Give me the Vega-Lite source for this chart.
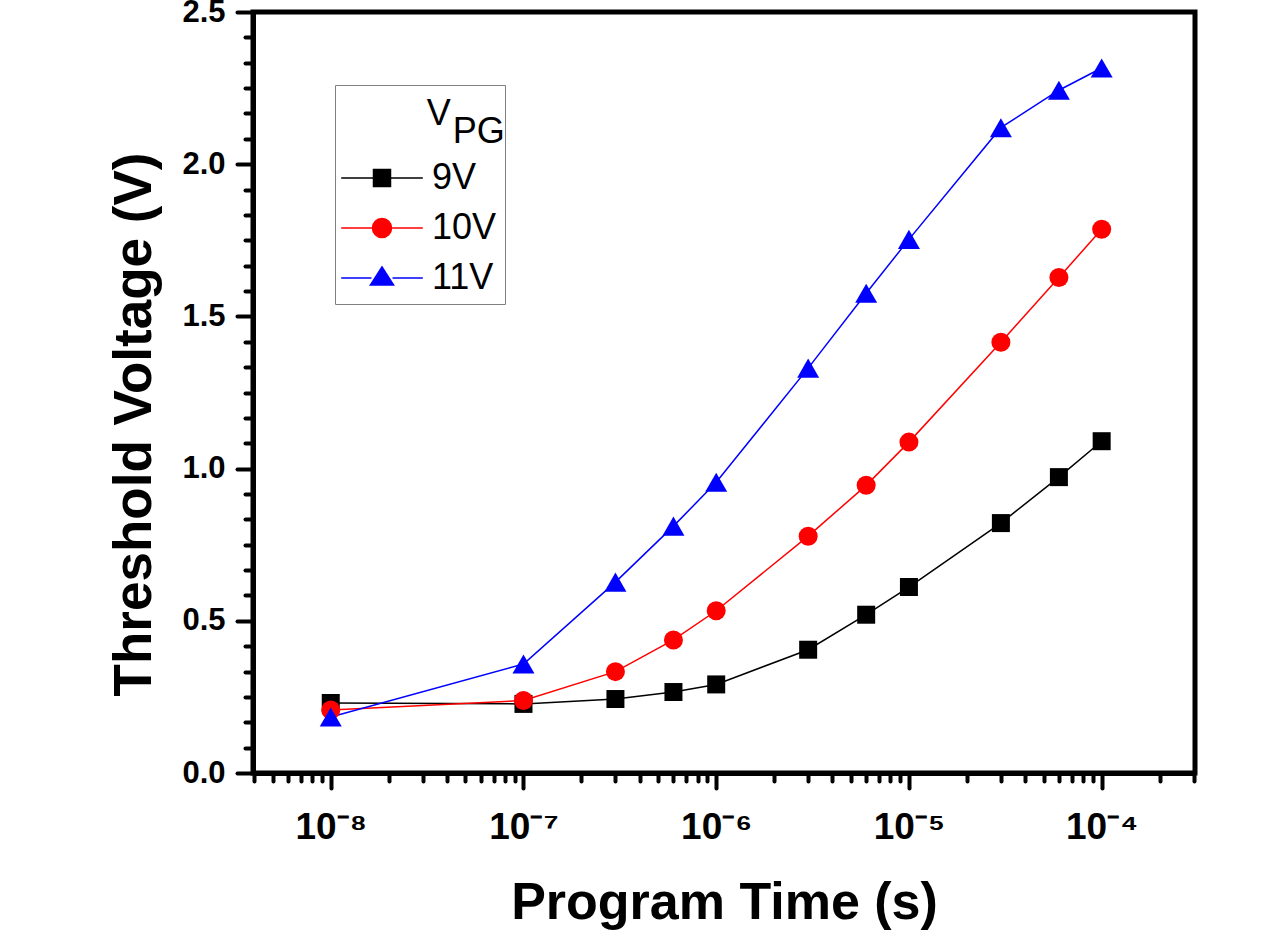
{
  "$schema": "https://vega.github.io/schema/vega-lite/v6.json",
  "width": 942,
  "height": 761,
  "autosize": "none",
  "padding": {"left": 253, "top": 12, "right": 71, "bottom": 164},
  "background": "white",
  "config": {"view": {"stroke": "black", "strokeWidth": 5}, "font": "Liberation Sans"},
  "resolve": {"axis": {"x": "independent", "y": "independent"}},
  "data": {"values": [
    {"t": 1e-8, "vth": 0.23, "series": "9V"},
    {"t": 1e-7, "vth": 0.227, "series": "9V"},
    {"t": 3e-7, "vth": 0.243, "series": "9V"},
    {"t": 6e-7, "vth": 0.266, "series": "9V"},
    {"t": 1e-6, "vth": 0.291, "series": "9V"},
    {"t": 3e-6, "vth": 0.405, "series": "9V"},
    {"t": 6e-6, "vth": 0.52, "series": "9V"},
    {"t": 1e-5, "vth": 0.611, "series": "9V"},
    {"t": 3e-5, "vth": 0.821, "series": "9V"},
    {"t": 6e-5, "vth": 0.972, "series": "9V"},
    {"t": 1e-4, "vth": 1.09, "series": "9V"},
    {"t": 1e-8, "vth": 0.207, "series": "10V"},
    {"t": 1e-7, "vth": 0.238, "series": "10V"},
    {"t": 3e-7, "vth": 0.333, "series": "10V"},
    {"t": 6e-7, "vth": 0.437, "series": "10V"},
    {"t": 1e-6, "vth": 0.533, "series": "10V"},
    {"t": 3e-6, "vth": 0.778, "series": "10V"},
    {"t": 6e-6, "vth": 0.945, "series": "10V"},
    {"t": 1e-5, "vth": 1.087, "series": "10V"},
    {"t": 3e-5, "vth": 1.415, "series": "10V"},
    {"t": 6e-5, "vth": 1.628, "series": "10V"},
    {"t": 1e-4, "vth": 1.786, "series": "10V"},
    {"t": 1e-8, "vth": 0.184, "series": "11V"},
    {"t": 1e-7, "vth": 0.358, "series": "11V"},
    {"t": 3e-7, "vth": 0.627, "series": "11V"},
    {"t": 6e-7, "vth": 0.811, "series": "11V"},
    {"t": 1e-6, "vth": 0.955, "series": "11V"},
    {"t": 3e-6, "vth": 1.33, "series": "11V"},
    {"t": 6e-6, "vth": 1.576, "series": "11V"},
    {"t": 1e-5, "vth": 1.753, "series": "11V"},
    {"t": 3e-5, "vth": 2.12, "series": "11V"},
    {"t": 6e-5, "vth": 2.243, "series": "11V"},
    {"t": 1e-4, "vth": 2.316, "series": "11V"}
  ]},
  "layer": [
    {
      "mark": {"type": "line", "strokeWidth": 1.5},
      "encoding": {
        "x": {
          "field": "t", "type": "quantitative",
          "scale": {"type": "log", "domain": [3.95e-9, 3.05e-4], "nice": false},
          "title": null,
          "axis": {
            "orient": "bottom",
            "values": [4e-9, 5e-9, 6e-9, 7e-9, 8e-9, 9e-9,
              2e-8, 3e-8, 4e-8, 5e-8, 6e-8, 7e-8, 8e-8, 9e-8,
              2e-7, 3e-7, 4e-7, 5e-7, 6e-7, 7e-7, 8e-7, 9e-7,
              2e-6, 3e-6, 4e-6, 5e-6, 6e-6, 7e-6, 8e-6, 9e-6,
              2e-5, 3e-5, 4e-5, 5e-5, 6e-5, 7e-5, 8e-5, 9e-5,
              2e-4, 3e-4],
            "labels": false, "grid": false,
            "tickSize": 8, "tickWidth": 4, "tickColor": "black", "tickCap": "round",
            "domainWidth": 5, "domainColor": "black"
          }
        },
        "y": {
          "field": "vth", "type": "quantitative",
          "scale": {"domain": [0, 2.5], "nice": false},
          "title": null,
          "axis": {
            "orient": "left",
            "values": [0.0833, 0.1667, 0.25, 0.3333, 0.4167, 0.5833, 0.6667, 0.75, 0.8333, 0.9167, 1.0833, 1.1667, 1.25, 1.3333, 1.4167, 1.5833, 1.6667, 1.75, 1.8333, 1.9167, 2.0833, 2.1667, 2.25, 2.3333, 2.4167],
            "labels": false, "grid": false,
            "tickSize": 8, "tickWidth": 4, "tickColor": "black", "tickCap": "round",
            "domainWidth": 5, "domainColor": "black"
          }
        },
        "color": {"field": "series", "type": "nominal", "scale": {"domain": ["9V", "10V", "11V"], "range": ["#000000", "#ff0000", "#0000ff"]}}
      }
    },
    {
      "transform": [{"filter": "datum.series === '9V'"}],
      "mark": {"type": "point", "filled": true, "opacity": 1, "shape": "square", "size": 324},
      "encoding": {
        "x": {
          "field": "t", "type": "quantitative",
          "scale": {"type": "log", "domain": [3.95e-9, 3.05e-4], "nice": false},
          "title": "Program Time (s)",
          "axis": {
            "orient": "bottom",
            "values": [1e-8, 1e-7, 1e-6, 1e-5, 1e-4],
            "labelExpr": "'10' + ['⁻⁸','⁻⁷','⁻⁶','⁻⁵','⁻⁴'][round(log(datum.value)/LN10) + 8]",
            "labelFont": "Liberation Sans", "labelFontSize": 37, "labelFontWeight": "bold", "labelColor": "black",
            "labelPadding": 21, "labelOverlap": false, "labelFlush": false,
            "tickSize": 15, "tickWidth": 4, "tickColor": "black", "tickCap": "round",
            "domainWidth": 5, "domainColor": "black", "grid": false,
            "titleFont": "Liberation Sans", "titleFontSize": 52, "titleFontWeight": "bold", "titleColor": "black", "titlePadding": 32
          }
        },
        "y": {
          "field": "vth", "type": "quantitative",
          "scale": {"domain": [0, 2.5], "nice": false},
          "title": "Threshold Voltage (V)",
          "axis": {
            "orient": "left",
            "values": [0, 0.5, 1, 1.5, 2, 2.5],
            "format": ".1f",
            "labelFont": "Liberation Sans", "labelFontSize": 31, "labelFontWeight": "bold", "labelColor": "black",
            "labelPadding": 12, "labelOverlap": false, "labelFlush": false,
            "tickSize": 16, "tickWidth": 4, "tickColor": "black", "tickCap": "round",
            "domainWidth": 5, "domainColor": "black", "grid": false,
            "titleFont": "Liberation Sans", "titleFontSize": 53, "titleFontWeight": "bold", "titleColor": "black", "titlePadding": 20, "titleY": 412
          }
        },
        "color": {"field": "series", "type": "nominal"}
      }
    },
    {
      "transform": [{"filter": "datum.series === '10V'"}],
      "mark": {"type": "point", "filled": true, "opacity": 1, "shape": "circle", "size": 361},
      "encoding": {
        "x": {"field": "t", "type": "quantitative", "scale": {"type": "log", "domain": [3.95e-9, 3.05e-4], "nice": false}, "axis": null},
        "y": {"field": "vth", "type": "quantitative", "scale": {"domain": [0, 2.5], "nice": false}, "axis": null},
        "color": {"field": "series", "type": "nominal"}
      }
    },
    {
      "transform": [{"filter": "datum.series === '11V'"}],
      "mark": {"type": "point", "filled": true, "opacity": 1, "shape": "triangle-up", "size": 484},
      "encoding": {
        "x": {"field": "t", "type": "quantitative", "scale": {"type": "log", "domain": [3.95e-9, 3.05e-4], "nice": false}, "axis": null},
        "y": {"field": "vth", "type": "quantitative", "scale": {"domain": [0, 2.5], "nice": false}, "axis": null},
        "color": {"field": "series", "type": "nominal"}
      }
    },
    {
      "mark": {"type": "point", "filled": true, "opacity": 0, "size": 1156},
      "encoding": {
        "x": {"field": "t", "type": "quantitative", "scale": {"type": "log", "domain": [3.95e-9, 3.05e-4], "nice": false}, "axis": null},
        "y": {"field": "vth", "type": "quantitative", "scale": {"domain": [0, 2.5], "nice": false}, "axis": null},
        "color": {
          "field": "series", "type": "nominal",
          "legend": {
            "orient": "none", "legendX": 82, "legendY": 73, "direction": "vertical",
            "title": " ", "titleFontSize": 36, "titlePadding": 31,
            "labelFont": "Liberation Sans", "labelFontSize": 36, "labelColor": "black", "labelOffset": 32,
            "symbolSize": 1156, "symbolOffset": 21, "symbolOpacity": 1, "symbolStrokeWidth": 1.5,
            "rowPadding": 14, "padding": 8, "strokeColor": "#808080"
          }
        },
        "stroke": {
          "field": "series", "type": "nominal",
          "scale": {"domain": ["9V", "10V", "11V"], "range": ["#000000", "#ff0000", "#0000ff"]},
          "legend": {
            "orient": "none", "legendX": 82, "legendY": 73, "direction": "vertical",
            "title": " ", "titleFontSize": 36, "titlePadding": 31,
            "labelFont": "Liberation Sans", "labelFontSize": 36, "labelColor": "black", "labelOffset": 32,
            "symbolSize": 1156, "symbolOffset": 21, "symbolOpacity": 1, "symbolStrokeWidth": 1.5,
            "rowPadding": 14, "padding": 8, "strokeColor": "#808080"
          }
        },
        "shape": {
          "field": "series", "type": "nominal",
          "scale": {"domain": ["9V", "10V", "11V"], "range": [
            "M-2.4,0H-0.5M0.5,0H2.4M-0.5,-0.5H0.5V0.5H-0.5Z",
            "M-2.4,0H-0.56M0.56,0H2.4M-0.56,0A0.56,0.56,0,1,0,0.56,0A0.56,0.56,0,1,0,-0.56,0Z",
            "M-2.4,0H-0.62M0.62,0H2.4M0,-0.65L0.68,0.41L-0.68,0.41Z"
          ]},
          "legend": {
            "orient": "none", "legendX": 82, "legendY": 73, "direction": "vertical",
            "title": " ", "titleFontSize": 36, "titlePadding": 31,
            "labelFont": "Liberation Sans", "labelFontSize": 36, "labelColor": "black", "labelOffset": 32,
            "symbolSize": 1156, "symbolOffset": 21, "symbolOpacity": 1, "symbolStrokeWidth": 1.5,
            "rowPadding": 14, "padding": 8, "strokeColor": "#808080"
          }
        }
      }
    },
    {
      "data": {"values": [{"label": "V"}]},
      "mark": {"type": "text", "font": "Liberation Sans", "fontSize": 36, "align": "left", "baseline": "alphabetic", "fill": "black"},
      "encoding": {
        "x": {"datum": 3.15e-8, "scale": {"type": "log", "domain": [3.95e-9, 3.05e-4], "nice": false}, "axis": null},
        "y": {"datum": 2.129, "scale": {"domain": [0, 2.5], "nice": false}, "axis": null},
        "text": {"field": "label"}
      }
    },
    {
      "data": {"values": [{"label": "PG"}]},
      "mark": {"type": "text", "font": "Liberation Sans", "fontSize": 36, "align": "left", "baseline": "alphabetic", "fill": "black"},
      "encoding": {
        "x": {"datum": 4.3e-8, "scale": {"type": "log", "domain": [3.95e-9, 3.05e-4], "nice": false}, "axis": null},
        "y": {"datum": 2.07, "scale": {"domain": [0, 2.5], "nice": false}, "axis": null},
        "text": {"field": "label"}
      }
    }
  ]
}
